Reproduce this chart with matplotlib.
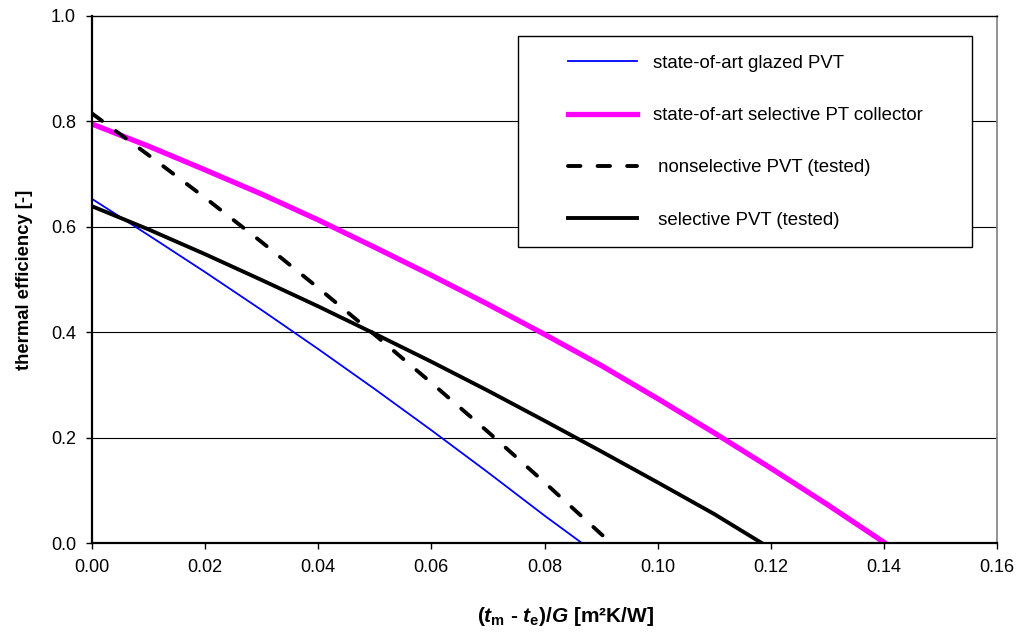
import matplotlib
matplotlib.use('Agg')
import matplotlib.pyplot as plt
from matplotlib.lines import Line2D
from matplotlib.legend_handler import HandlerLine2D
from matplotlib.ticker import FormatStrFormatter, MultipleLocator

plt.rcParams.update({
    'font.family': ['Liberation Sans', 'DejaVu Sans'],
    'font.size': 13,
    'mathtext.fontset': 'custom',
    'mathtext.rm': 'Liberation Sans:bold',
    'mathtext.it': 'Liberation Sans:bold:italic',
    'mathtext.bf': 'Liberation Sans:bold',
})

# values
x_glazed = [0.0, 0.01, 0.02, 0.03, 0.04, 0.05, 0.06, 0.07, 0.08, 0.0866]
eta_glazed = [0.653, 0.584, 0.514, 0.442, 0.368, 0.292, 0.214, 0.134, 0.052, 0.0]

x_pt = [0.0, 0.01, 0.02, 0.03, 0.04, 0.05, 0.06, 0.07, 0.08, 0.09, 0.10, 0.11, 0.12, 0.13, 0.1402]
eta_pt = [0.795, 0.753, 0.708, 0.662, 0.613, 0.561, 0.508, 0.453, 0.396, 0.337, 0.274, 0.209, 0.142, 0.073, 0.0]

x_nonsel = [0.0, 0.01, 0.02, 0.03, 0.04, 0.05, 0.06, 0.07, 0.08, 0.09, 0.0918]
eta_nonsel = [0.815, 0.736, 0.655, 0.571, 0.484, 0.395, 0.304, 0.211, 0.115, 0.017, 0.0]

x_sel = [0.0, 0.01, 0.02, 0.03, 0.04, 0.05, 0.06, 0.07, 0.08, 0.09, 0.10, 0.11, 0.1184]
eta_sel = [0.639, 0.595, 0.548, 0.499, 0.449, 0.397, 0.344, 0.289, 0.232, 0.174, 0.115, 0.055, 0.0]

labels = ['state-of-art glazed PVT',
          'state-of-art selective PT collector',
          ' nonselective PVT (tested)',
          ' selective PVT (tested)']

fig = plt.figure(figsize=(10.18, 6.32), dpi=100)
ax = fig.add_axes([92 / 1018, 1 - 543 / 632, 905 / 1018, 527 / 632])

ax.plot(x_glazed, eta_glazed, color='#0000FF', lw=1.3, label=labels[0])
ax.plot(x_pt, eta_pt, color='#FF00FF', lw=3.8, label=labels[1])
ax.plot(x_nonsel, eta_nonsel, color='black', lw=2.8, dashes=(3.2, 4.4),
        dash_capstyle='round', label=labels[2])
ax.plot(x_sel, eta_sel, color='black', lw=2.8, label=labels[3])

ax.set_xlim(0, 0.16)
ax.set_ylim(0, 1.0)
ax.xaxis.set_major_locator(MultipleLocator(0.02))
ax.yaxis.set_major_locator(MultipleLocator(0.2))
ax.xaxis.set_major_formatter(FormatStrFormatter('%.2f'))
ax.yaxis.set_major_formatter(FormatStrFormatter('%.1f'))
ax.tick_params(direction='out', length=4.5, width=1, colors='black', pad=7)

for yv in [0.2, 0.4, 0.6, 0.8]:
    ax.axhline(yv, color='black', lw=0.8, zorder=0)

ax.spines['left'].set_linewidth(1.6)
ax.spines['bottom'].set_linewidth(1.6)
ax.spines['top'].set_linewidth(1.0)
ax.spines['right'].set_color('#808080')
ax.spines['right'].set_linewidth(1.2)

ax.set_ylabel('thermal efficiency [-]', fontweight='bold', fontsize=13.3, labelpad=13)
fig.text(566 / 1018, 1 - 617 / 632,
         r'($\mathit{t}_{\mathrm{m}}$ - $\mathit{t}_{\mathrm{e}}$)/$\mathit{G}$ [m²K/W]',
         fontweight='bold', fontsize=15, ha='center', va='center')

leg = ax.legend(loc='upper left', bbox_to_anchor=(0.4707, 0.0, 0.5017, 0.962),
                mode='expand', borderaxespad=0, fancybox=False, framealpha=1,
                edgecolor='black', borderpad=1.0, labelspacing=1.9,
                handlelength=5.4, handletextpad=0.86, fontsize=13.4,
                handler_map={Line2D: HandlerLine2D(xpad=1.7)})
leg.get_frame().set_linewidth(1.0)

fig.savefig('out.png', dpi=100)
